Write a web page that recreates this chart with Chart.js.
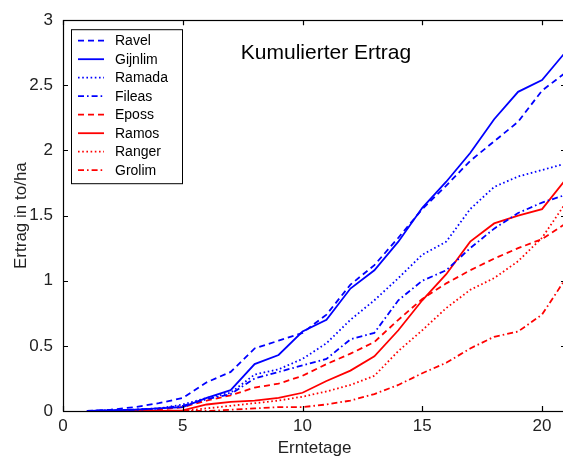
<!DOCTYPE html>
<html>
<head>
<meta charset="utf-8">
<script src="https://cdn.jsdelivr.net/npm/chart.js@4.4.1/dist/chart.umd.min.js"></script>
<style>
html,body{margin:0;padding:0;overflow:hidden;background:#fff;}
canvas{display:block;}
</style>
</head>
<body>
<canvas id="c" width="567" height="459"></canvas>
<script>
const days = [1,2,3,4,5,6,7,8,9,10,11,12,13,14,15,16,17,18,19,20,21];
const ravel   = [0,0.01,0.03,0.06,0.1,0.22,0.3,0.48,0.54,0.6,0.74,0.97,1.12,1.33,1.55,1.73,1.92,2.07,2.22,2.46,2.6];
const gijnlim = [0,0.005,0.01,0.02,0.03,0.1,0.16,0.36,0.43,0.61,0.7,0.94,1.08,1.3,1.56,1.76,1.98,2.24,2.45,2.54,2.76];
const ramada  = [0,0.005,0.01,0.02,0.05,0.1,0.14,0.28,0.32,0.4,0.52,0.7,0.85,1.02,1.2,1.3,1.55,1.72,1.8,1.85,1.9];
const fileas  = [0,0.005,0.01,0.02,0.04,0.09,0.13,0.25,0.3,0.35,0.4,0.55,0.6,0.85,1.0,1.08,1.25,1.4,1.52,1.6,1.66];
const eposs   = [0,0,0.005,0.01,0.03,0.08,0.12,0.18,0.21,0.27,0.36,0.44,0.53,0.7,0.86,0.98,1.08,1.17,1.25,1.32,1.44];
const ramos   = [0,0,0,0,0.005,0.05,0.07,0.08,0.1,0.14,0.23,0.31,0.42,0.62,0.85,1.05,1.3,1.44,1.5,1.55,1.78];
const ranger  = [0,0,0,0,0,0.02,0.04,0.06,0.08,0.11,0.15,0.2,0.27,0.46,0.62,0.79,0.93,1.02,1.15,1.33,1.6];
const grolim  = [0,0,0,0,0,0,0.01,0.02,0.03,0.03,0.05,0.08,0.13,0.2,0.29,0.37,0.48,0.57,0.61,0.74,1.02];
const seriesNames = ['Ravel','Gijnlim','Ramada','Fileas','Eposs','Ramos','Ranger','Grolim'];
const xTicks = [0,5,10,15,20];
const yTicks = [0,0.5,1,1.5,2,2.5,3];
const yTickLabels = ['0','0.5','1','1.5','2','2.5','3'];
const titleText = 'Kumulierter Ertrag';
const xTitle = 'Erntetage';
const yTitle = 'Ertrag in to/ha';

const FONT = "'Liberation Sans', Arial, Helvetica, sans-serif";
const BLUE = '#0000ff', RED = '#ff0000';
const DASH = [6,4], DOT = [1.6,2.6], DASHDOT = [6,3,1.6,3];
const styles = [
  {c:BLUE,d:DASH},{c:BLUE,d:[]},{c:BLUE,d:DOT},{c:BLUE,d:DASHDOT},
  {c:RED,d:DASH},{c:RED,d:[]},{c:RED,d:DOT},{c:RED,d:DASHDOT}
];
const allSeries = [ravel,gijnlim,ramada,fileas,eposs,ramos,ranger,grolim];

const datasets = allSeries.map((vals,i)=>({
  label: seriesNames[i],
  data: days.map((d,j)=>({x:d,y:vals[j]})),
  borderColor: styles[i].c,
  borderDash: styles[i].d,
  borderWidth: 1.8,
  pointRadius: 0,
  tension: 0,
  fill: false
}));

const framePlugin = {
  id:'frame',
  afterDatasetsDraw(chart){
    const {ctx, chartArea:a, scales} = chart;
    const xs = scales.x, ys = scales.y;
    ctx.save();
    ctx.strokeStyle = '#000';
    ctx.lineWidth = 1.2;
    ctx.strokeRect(Math.round(a.left)+0.5, Math.round(a.top)+0.5, Math.round(a.right-a.left), Math.round(a.bottom-a.top));
    const tl = 5;
    ctx.beginPath();
    xTicks.forEach(v=>{
      const px = Math.round(xs.getPixelForValue(v))+0.5;
      ctx.moveTo(px, a.bottom); ctx.lineTo(px, a.bottom-tl);
      ctx.moveTo(px, a.top); ctx.lineTo(px, a.top+tl);
    });
    yTicks.forEach(v=>{
      const py = Math.round(ys.getPixelForValue(v))+0.5;
      ctx.moveTo(a.left, py); ctx.lineTo(a.left+tl, py);
      ctx.moveTo(a.right, py); ctx.lineTo(a.right-tl, py);
    });
    ctx.stroke();

    // title inside plot
    ctx.fillStyle = '#000';
    ctx.font = '21px ' + FONT;
    ctx.textAlign = 'center';
    ctx.textBaseline = 'middle';
    ctx.fillText(titleText, a.left + 263, a.top + 33);

    // legend
    const bx = a.left + 8, by = a.top + 9, bw = 111, bh = 154;
    ctx.fillStyle = '#fff';
    ctx.fillRect(bx, by, bw, bh);
    ctx.lineWidth = 1;
    ctx.strokeStyle = '#000';
    ctx.strokeRect(bx+0.5, by+0.5, bw, bh);
    ctx.font = '14px ' + FONT;
    ctx.textAlign = 'left';
    chart.data.datasets.forEach((ds,i)=>{
      const y = by + 11.5 + i*18.5;
      ctx.save();
      ctx.strokeStyle = ds.borderColor;
      ctx.lineWidth = ds.borderWidth;
      ctx.setLineDash(ds.borderDash);
      ctx.beginPath();
      ctx.moveTo(bx+7, y); ctx.lineTo(bx+33, y);
      ctx.stroke();
      ctx.restore();
      ctx.fillStyle = '#000';
      ctx.fillText(ds.label, bx+44, y+0.5);
    });
    ctx.restore();
  }
};

new Chart(document.getElementById('c'), {
  type:'line',
  data:{datasets},
  options:{
    responsive:false,
    animation:false,
    devicePixelRatio:1,
    layout:{padding:{top:14,right:1,bottom:0,left:0}},
    plugins:{legend:{display:false},tooltip:{enabled:false},title:{display:false}},
    scales:{
      x:{
        type:'linear', min:0, max:21,
        grid:{display:false, drawTicks:false},
        border:{display:false},
        afterBuildTicks(s){ s.ticks = xTicks.map(v=>({value:v})); },
        ticks:{font:{family:FONT,size:17}, color:'#222', padding:5, maxRotation:0, autoSkip:false,
               callback:(v)=>String(v)},
        title:{display:true, text:xTitle, font:{family:FONT,size:17}, color:'#222', padding:{top:0,bottom:0}},
        afterFit(s){ s.height = 48; }
      },
      y:{
        type:'linear', min:0, max:3,
        grid:{display:false, drawTicks:false},
        border:{display:false},
        afterBuildTicks(s){ s.ticks = yTicks.map(v=>({value:v})); },
        ticks:{font:{family:FONT,size:17}, color:'#222', padding:10, autoSkip:false,
               callback:(v)=>yTickLabels[yTicks.indexOf(v)] ?? String(v)},
        title:{display:true, text:yTitle, font:{family:FONT,size:17}, color:'#222', padding:{top:11,bottom:0}},
        afterFit(s){ s.width = 63; }
      }
    }
  },
  plugins:[framePlugin]
});
</script>
</body>
</html>
